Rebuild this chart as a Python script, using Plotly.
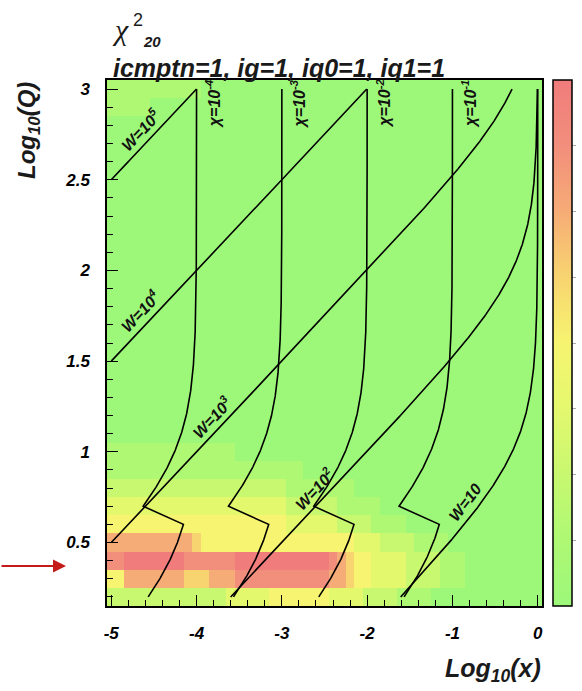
import numpy as np
import plotly.graph_objects as go

# ---- chi^2 map on a (log10 x, log10 Q) grid -------------------------------
logx_centres = [round(-5.0 + 0.1 * i, 1) for i in range(51)]
logq_centres = [round(0.2 + 0.1 * j, 1) for j in range(29)]

# one digit per bin (chi^2 level 0..8), rows listed from log10(Q)=3.0 down to 0.2,
# columns from log10(x)=-5.0 to 0.0, grouped by ten
chi2_rows = [
    "1111111111 1000000000 0000000000 0000000000 0000000000 0",  # 3.0
    "1111100000 0000000000 0000000000 0000000000 0000000000 0",  # 2.9
    "0000000000 0000000000 0000000000 0000000000 0000000000 0",  # 2.8
    "0000000000 0000000000 0000000000 0000000000 0000000000 0",  # 2.7
    "0000000000 0000000000 0000000000 0000000000 0000000000 0",  # 2.6
    "0000000000 0000000000 0000000000 0000000000 0000000000 0",  # 2.5
    "0000000000 0000000000 0000000000 0000000000 0000000000 0",  # 2.4
    "0000000000 0000000000 0000000000 0000000000 0000000000 0",  # 2.3
    "0000000000 0000000000 0000000000 0000000000 0000000000 0",  # 2.2
    "0000000000 0000000000 0000000000 0000000000 0000000000 0",  # 2.1
    "0000000000 0000000000 0000000000 0000000000 0000000000 0",  # 2.0
    "0000000000 0000000000 0000000000 0000000000 0000000000 0",  # 1.9
    "0000000000 0000000000 0000000000 0000000000 0000000000 0",  # 1.8
    "0000000000 0000000000 0000000000 0000000000 0000000000 0",  # 1.7
    "0000000000 0000000000 0000000000 0000000000 0000000000 0",  # 1.6
    "0000000000 0000000000 0000000000 0000000000 0000000000 0",  # 1.5
    "0000000000 0000000000 0000000000 0000000000 0000000000 0",  # 1.4
    "0000000000 0000000000 0000000000 0000000000 0000000000 0",  # 1.3
    "0000000000 0000000000 0000000000 0000000000 0000000000 0",  # 1.2
    "0000000000 0000000000 0000000000 0000000000 0000000000 0",  # 1.1
    "1111111111 1111100000 0000000000 0000000000 0000000000 0",  # 1.0
    "1111111111 1111111111 1110000000 0000000000 0000000000 0",  # 0.9
    "2222222222 2222222222 2111111110 0000000000 0000000000 0",  # 0.8
    "3333333333 3333333333 3222222111 1100000000 0000000000 0",  # 0.7
    "4444444444 4444444444 4333333222 2111100000 0000000000 0",  # 0.6
    "6666666666 5444444444 4444444443 3322221111 0000000000 0",  # 0.5
    "7788888887 7777788888 8888887654 4333322221 1100000000 0",  # 0.4
    "4466666665 5566677777 7777776654 4333322221 1100000000 0",  # 0.3
    "2222222222 2222333334 4444443333 2222111100 0000000000 0",  # 0.2
]
chi2 = [[int(c) for c in row.replace(" ", "")] for row in reversed(chi2_rows)]

chi2_levels = [1, 2, 3, 4, 5, 6, 7]
CHI2_MAX = 8

palette = [
    [0.000, "rgb(157,248,122)"],
    [0.125, "rgb(174,248,116)"],
    [0.250, "rgb(200,248,112)"],
    [0.375, "rgb(228,248,110)"],
    [0.500, "rgb(246,244,112)"],
    [0.625, "rgb(248,212,112)"],
    [0.750, "rgb(246,172,118)"],
    [0.875, "rgb(242,142,124)"],
    [1.000, "rgb(240,124,124)"],
]

# ---- kinematic lines ------------------------------------------------------
PROTON_MASS = 0.938
M_CHARM = 1.3
M_BOTTOM = 4.5
Q_GRID_STEP = 0.1
LOGX_MIN = -5.0
LOGQ_LO, LOGQ_HI = 0.2, 3.0

W_values = [1e5, 1e4, 1e3, 1e2, 1e1]
W_labels = ["W=10<sup>5</sup>", "W=10<sup>4</sup>", "W=10<sup>3</sup>",
            "W=10<sup>2</sup>", "W=10"]
W_label_logx = [-4.55, -4.55, -3.71, -2.51, -0.73]

chi_values = [1e-4, 1e-3, 1e-2, 1e-1]
chi_labels = ["χ=10<sup>-4</sup>", "χ=10<sup>-3</sup>",
              "χ=10<sup>-2</sup>", "χ=10<sup>-1</sup>"]
CHI_LABEL_LOGQ = 2.92

X_RANGE = [-5.05, 0.05]
Y_RANGE = [0.15, 3.05]
x_ticks = [-5, -4, -3, -2, -1, 0]
y_ticks = [0.5, 1, 1.5, 2, 2.5, 3]
y_ticktext = ["0.5", "1", "1.5", "2", "2.5", "3"]

W_px, H_px = 582, 691
ML, MR, MT, MB = 107, 40, 80, 85
plot_w = W_px - ML - MR
plot_h = H_px - MT - MB
px_per_x = plot_w / (X_RANGE[1] - X_RANGE[0])
px_per_y = plot_h / (Y_RANGE[1] - Y_RANGE[0])


def w_line(W):
    s = W * W - PROTON_MASS ** 2
    xmin = 10 ** LOGX_MIN
    lo = max(LOGQ_LO, 0.5 * np.log10(xmin / (1 - xmin) * s))
    lq = np.linspace(lo, LOGQ_HI, 600)
    r = 10 ** (2 * lq) / s
    x = r / (1 + r)
    return np.log10(x), lq


def chi_line(chi):
    thr = np.log10(M_BOTTOM) / Q_GRID_STEP
    q_c_top = np.floor(thr) * Q_GRID_STEP
    q_b_low = np.ceil(thr) * Q_GRID_STEP
    lq_c = np.linspace(LOGQ_LO, q_c_top, 80)
    lq_b = np.linspace(q_b_low, LOGQ_HI, 400)
    xc = chi / (1 + 4 * M_CHARM ** 2 / 10 ** (2 * lq_c))
    xb = chi / (1 + 4 * M_BOTTOM ** 2 / 10 ** (2 * lq_b))
    return np.log10(np.concatenate([xc, xb])), np.concatenate([lq_c, lq_b])


fig = go.Figure()

fig.add_trace(go.Heatmap(
    x=logx_centres, y=logq_centres, z=chi2, zmin=0, zmax=CHI2_MAX,
    colorscale=palette, zsmooth=False, hoverinfo="skip",
    colorbar=dict(
        x=1 + 11 / plot_w, xanchor="left", xpad=0,
        y=0.5, yanchor="middle", len=1, lenmode="fraction", ypad=0,
        thickness=19, thicknessmode="pixels",
        outlinecolor="black", outlinewidth=1.5,
        showticklabels=False, ticks="outside", ticklen=4,
        tickcolor="#aaaaaa", tickvals=chi2_levels,
    ),
))

LINE = dict(color="black", width=1.6)
for W in W_values:
    lx, lq = w_line(W)
    fig.add_trace(go.Scatter(x=lx, y=lq, mode="lines", line=LINE,
                             showlegend=False, hoverinfo="skip"))
for chi in chi_values:
    lx, lq = chi_line(chi)
    fig.add_trace(go.Scatter(x=lx, y=lq, mode="lines", line=LINE,
                             showlegend=False, hoverinfo="skip"))

label_font = dict(family="Liberation Sans, Arial", size=16, color="#111111",
                  weight="bold", style="italic")
annotations = []
for W, text, lx in zip(W_values, W_labels, W_label_logx):
    s = W * W - PROTON_MASS ** 2
    x = 10 ** lx
    lq = 0.5 * np.log10(x / (1 - x) * s)
    slope = 0.5 / (1 - x) * px_per_y / px_per_x
    theta = np.arctan(slope)
    annotations.append(dict(
        x=lx, y=lq, xref="x", yref="y", text=text, showarrow=False,
        textangle=-np.degrees(theta), font=label_font,
        xanchor="center", yanchor="middle",
        xshift=-13 * np.sin(theta), yshift=13 * np.cos(theta)))
for chi, text in zip(chi_values, chi_labels):
    annotations.append(dict(
        x=np.log10(chi), y=CHI_LABEL_LOGQ, xref="x", yref="y", text=text,
        showarrow=False, textangle=-90, font=label_font,
        xanchor="center", yanchor="middle", xshift=16))


def paper_x(px):
    return (px - ML) / plot_w


def paper_y(py):
    return (H_px - MB - py) / plot_h


title_font = dict(family="Liberation Sans, Arial", color="#1a1a1a",
                  weight="bold", style="italic")
annotations += [
    dict(x=paper_x(110), y=paper_y(30), xref="paper", yref="paper", text="χ",
         showarrow=False, xanchor="left", yanchor="middle",
         font=dict(family="Liberation Serif, DejaVu Serif", size=30,
                   color="#1a1a1a", style="italic")),
    dict(x=paper_x(131), y=paper_y(20), xref="paper", yref="paper", text="2",
         showarrow=False, xanchor="left", yanchor="middle",
         font=dict(family="Liberation Sans, Arial", size=18, color="#1a1a1a")),
    dict(x=paper_x(141), y=paper_y(41), xref="paper", yref="paper", text="20",
         showarrow=False, xanchor="left", yanchor="middle",
         font=dict(title_font, size=15)),
    dict(x=paper_x(111), y=paper_y(68), xref="paper", yref="paper",
         text="icmptn=1, ig=1, iq0=1, iq1=1", showarrow=False,
         xanchor="left", yanchor="middle", font=dict(title_font, size=25)),
    dict(x=paper_x(28), y=paper_y(131), xref="paper", yref="paper",
         text="Log<sub>10</sub>(Q)", showarrow=False, textangle=-90,
         xanchor="center", yanchor="middle", font=dict(title_font, size=24)),
    dict(x=paper_x(493), y=paper_y(670), xref="paper", yref="paper",
         text="Log<sub>10</sub>(x)", showarrow=False,
         xanchor="center", yanchor="middle", font=dict(title_font, size=25)),
    # marker pointing at the high-chi^2 band
    dict(x=paper_x(66), y=0.37, xref="paper", yref="y", text="",
         showarrow=True, ax=-66, ay=0, axref="pixel", ayref="pixel",
         arrowhead=2, arrowsize=1.3, arrowwidth=2, arrowcolor="#c41a1a",
         standoff=0),
]

# level separators drawn across the colour bar
cb_x0 = 1 + 11 / plot_w
cb_x1 = cb_x0 + 19 / plot_w
shapes = [dict(type="line", xref="paper", yref="paper",
               x0=cb_x0, x1=cb_x1, y0=lv / CHI2_MAX, y1=lv / CHI2_MAX,
               line=dict(color="black", width=1.5))
          for lv in chi2_levels]

tick_font = dict(family="Liberation Sans, Arial", size=17, color="black",
                 weight="bold", style="italic")

fig.update_layout(
    width=W_px, height=H_px,
    margin=dict(l=ML, r=MR, t=MT, b=MB, autoexpand=False),
    paper_bgcolor="white", plot_bgcolor="white",
    showlegend=False,
    annotations=annotations,
    shapes=shapes,
    xaxis=dict(
        range=X_RANGE, tickmode="array", tickvals=x_ticks,
        ticktext=[str(v) for v in x_ticks],
        ticks="inside", ticklen=11, tickwidth=1.3, tickcolor="black",
        minor=dict(tickmode="linear", tick0=-5, dtick=0.2, ticks="inside",
                   ticklen=6, tickwidth=1.2, tickcolor="black"),
        showline=True, linecolor="black", linewidth=1.5, mirror=True,
        showgrid=False, zeroline=False, tickfont=tick_font,
        ticklabelstandoff=11,
    ),
    yaxis=dict(
        range=Y_RANGE, tickmode="array", tickvals=y_ticks, ticktext=y_ticktext,
        ticks="inside", ticklen=11, tickwidth=1.3, tickcolor="black",
        minor=dict(tickmode="linear", tick0=0.5, dtick=0.1, ticks="inside",
                   ticklen=6, tickwidth=1.2, tickcolor="black"),
        showline=True, linecolor="black", linewidth=1.5, mirror=True,
        showgrid=False, zeroline=False, tickfont=tick_font,
        ticklabelstandoff=12,
    ),
)

fig.write_html("out.html")
